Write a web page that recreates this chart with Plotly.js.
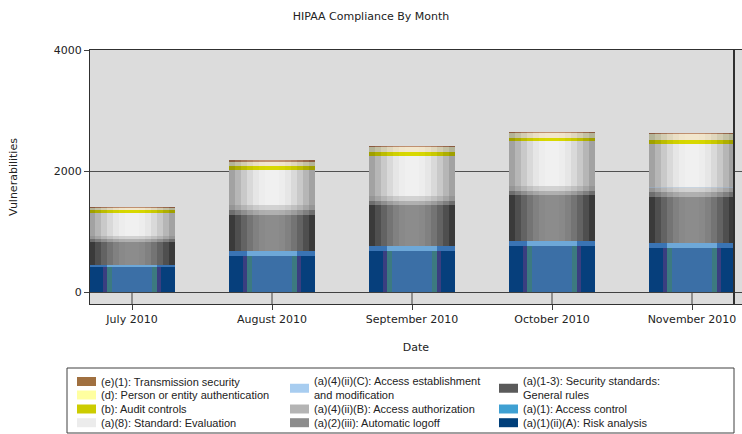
<!DOCTYPE html>
<html><head><meta charset="utf-8">
<script src="https://cdn.plot.ly/plotly-3.0.1.min.js"></script>
<style>html,body{margin:0;padding:0;background:#fff;overflow:hidden}</style>
</head><body><div id="chart" style="width:742px;height:434px"></div>
<script>
// ---- data (stack order: bottom to top) ----
const months = ['July 2010', 'August 2010', 'September 2010', 'October 2010', 'November 2010'];
const riskAnalysis        = [413, 600, 672, 755, 727];
const accessControl       = [35, 80, 83, 88, 88];
const generalRules        = [380, 595, 678, 755, 755];
const automaticLogoff     = [50, 80, 75, 75, 75];
const accessAuthorization = [50, 85, 80, 80, 80];
const accessEstablishment = [3, 5, 5, 5, 5];
const evaluation          = [375, 580, 650, 733, 716];
const auditControls       = [55, 66, 66, 55, 72];
const personAuth          = [33, 66, 83, 88, 88];
const transmission        = [15, 17, 17, 17, 17];

const seriesNames = [
  '(a)(1)(ii)(A): Risk analysis',
  '(a)(1): Access control',
  '(a)(1-3): Security standards: General rules',
  '(a)(2)(iii): Automatic logoff',
  '(a)(4)(ii)(B): Access authorization',
  '(a)(4)(ii)(C): Access establishment and modification',
  '(a)(8): Standard: Evaluation',
  '(b): Audit controls',
  '(d): Person or entity authentication',
  '(e)(1): Transmission security'
];
const seriesValues = [riskAnalysis, accessControl, generalRules, automaticLogoff, accessAuthorization,
  accessEstablishment, evaluation, auditControls, personAuth, transmission];
const legendColors = ['#003f7a', '#3fa0d2', '#5a5a5a', '#8c8c8c', '#b4b4b4', '#a8cdf0', '#ececec', '#cccc00', '#ffffa0', '#a07040'];

// legend label lines and grid placement (column, row)
const legendLabels = [
  '(a)(1)(ii)(A): Risk analysis',
  '(a)(1): Access control',
  '(a)(1-3): Security standards:<br>General rules',
  '(a)(2)(iii): Automatic logoff',
  '(a)(4)(ii)(B): Access authorization',
  '(a)(4)(ii)(C): Access establishment<br>and modification',
  '(a)(8): Standard: Evaluation',
  '(b): Audit controls',
  '(d): Person or entity authentication',
  '(e)(1): Transmission security'
];
const legendCol = [2, 2, 2, 1, 1, 1, 0, 0, 0, 0];
const legendRow = [3, 2, 0, 3, 2, 0, 3, 2, 1, 0];

// ---- styling: cylinder-like shading (edge colour -> centre colour) ----
function hex(c){return [parseInt(c.substr(1,2),16),parseInt(c.substr(3,2),16),parseInt(c.substr(5,2),16)];}
function mix(a,b,t){const A=hex(a),B=hex(b);return 'rgb('+A.map((v,i)=>Math.round(v+(B[i]-v)*t)).join(',')+')';}
function ramp(edge, center){
  const fr=[1,0.86,0.72,0.58,0.44,0.3,0.16];
  return fr.map((f,i)=>[f, mix(edge,center,Math.sin(i/(fr.length-1)*Math.PI/2))]);
}
const shading = [
  [[1,'#063f7c'],[0.69,'#3a3e80'],[0.58,'#3c7a80'],[0.46,'#3b6fa6']],
  [[1,'#3a74b4'],[0.58,'#6ea8d8']],
  ramp('#3a3a3a','#8c8c8c'),
  ramp('#6e6e6e','#b0b0b0'),
  ramp('#959595','#d2d2d2'),
  ramp('#9aa8b8','#c8d4e0'),
  ramp('#a2a2a2','#f0f0f0'),
  ramp('#a0a000','#d8d800'),
  ramp('#b4b498','#f2e6cc'),
  ramp('#8a5a40','#c09070')
];
const BAR_W = 0.61;

// ---- traces ----
const traces = [];
let cum = months.map(()=>0);
seriesValues.forEach((vals, s) => {
  const base = cum.slice();
  shading[s].forEach(([f, col]) => {
    traces.push({
      type: 'bar', x: months, y: vals, base: base, width: BAR_W * f,
      name: seriesNames[s], showlegend: false,
      marker: {color: col, line: {width: 0}},
      hovertemplate: seriesNames[s] + '<br>%{x}: %{y}<extra></extra>'
    });
  });
  cum = cum.map((c, i) => c + vals[i]);
});

// ---- geometry helpers for the legend (pixel -> paper) ----
const W = 742, H = 434, ML = 90, MR = 0, MT = 50, MB = 130;
const PW = W - ML - MR, PH = H - MT - MB;
const px = x => (x - ML) / PW;
const py = y => (MT + PH - y) / PH;

const shapes = [];
const annotations = [];
// floor ticks between the zero line and the bottom of the frame
months.forEach(m => shapes.push({type:'line', xref:'x', yref:'y', x0:m, x1:m, y0:-198, y1:0,
  line:{color:'#404040', width:1}, layer:'above'}));
// right frame line
shapes.push({type:'line', xref:'paper', yref:'paper', x0:px(734), x1:px(734), y0:0, y1:1,
  line:{color:'#303030', width:2}});
// legend box
shapes.push({type:'rect', xref:'paper', yref:'paper', x0:px(67), x1:px(734), y0:py(368), y1:py(433),
  line:{color:'#404040', width:1}, fillcolor:'rgba(0,0,0,0)'});
const colX = [77, 290, 499];
const rowY = [381.5, 395, 409, 422.7];
seriesValues.forEach((v, s) => {
  const c = legendCol[s], r = legendRow[s];
  const twoLine = legendLabels[s].indexOf('<br>') >= 0;
  const cy = twoLine ? (rowY[0] + rowY[1]) / 2 : rowY[r];
  shapes.push({type:'rect', xref:'paper', yref:'paper', x0:px(colX[c]), x1:px(colX[c] + 19),
    y0:py(cy - 4.5), y1:py(cy + 4.5), line:{width:0}, fillcolor:legendColors[s]});
  annotations.push({xref:'paper', yref:'paper', x:px(colX[c] + 22), y:py(cy), xanchor:'left', yanchor:'middle',
    text:legendLabels[s], showarrow:false, align:'left',
    font:{family:'Liberation Sans, Arial, sans-serif', size:11, color:'#222'}});
});

const layout = {
  width: W, height: H,
  margin: {l: ML, r: MR, t: MT, b: MB, pad: 0},
  paper_bgcolor: '#ffffff', plot_bgcolor: '#dcdcdc',
  barmode: 'overlay', bargap: 0,
  showlegend: false,
  title: {text: 'HIPAA Compliance By Month', x: 0.5, xref: 'container', y: 1 - 16/434, yref: 'container',
    xanchor: 'center', yanchor: 'middle', font: {family: 'DejaVu Sans, Verdana, sans-serif', size: 11, color: '#222'}},
  font: {family: 'DejaVu Sans, Verdana, sans-serif', size: 11, color: '#222'},
  xaxis: {type: 'category',
    showgrid: false, zeroline: false, showline: true, mirror: true, linecolor: '#303030', linewidth: 1,
    ticks: 'outside', ticklen: 5, tickcolor: '#404040',
    tickfont: {family: 'DejaVu Sans, Verdana, sans-serif', size: 11, color: '#222'},
    title: {text: 'Date', standoff: 18, font: {family: 'DejaVu Sans, Verdana, sans-serif', size: 11, color: '#222'}},
    fixedrange: true},
  yaxis: {range: [-198, 4000], tickvals: [0, 2000, 4000], ticktext: ['0', '2000', '4000'],
    showgrid: true, gridcolor: '#505050', gridwidth: 1,
    zeroline: true, zerolinecolor: '#404040', zerolinewidth: 1,
    showline: true, linecolor: '#303030', linewidth: 1,
    ticks: 'outside', ticklen: 5, tickcolor: '#404040',
    tickfont: {family: 'DejaVu Sans, Verdana, sans-serif', size: 11, color: '#222'},
    title: {text: 'Vulnerabilities', standoff: 33, font: {family: 'DejaVu Sans, Verdana, sans-serif', size: 11, color: '#222'}},
    fixedrange: true},
  shapes: shapes,
  annotations: annotations
};
// x range: category i sits at 132 + 140*i px; left edge of plot at 90 px, right at 742 px
layout.xaxis.range = [(ML - 132) / 140, (W - MR - 132) / 140];

Plotly.newPlot('chart', traces, layout, {displayModeBar: false, staticPlot: true});
</script></body></html>
